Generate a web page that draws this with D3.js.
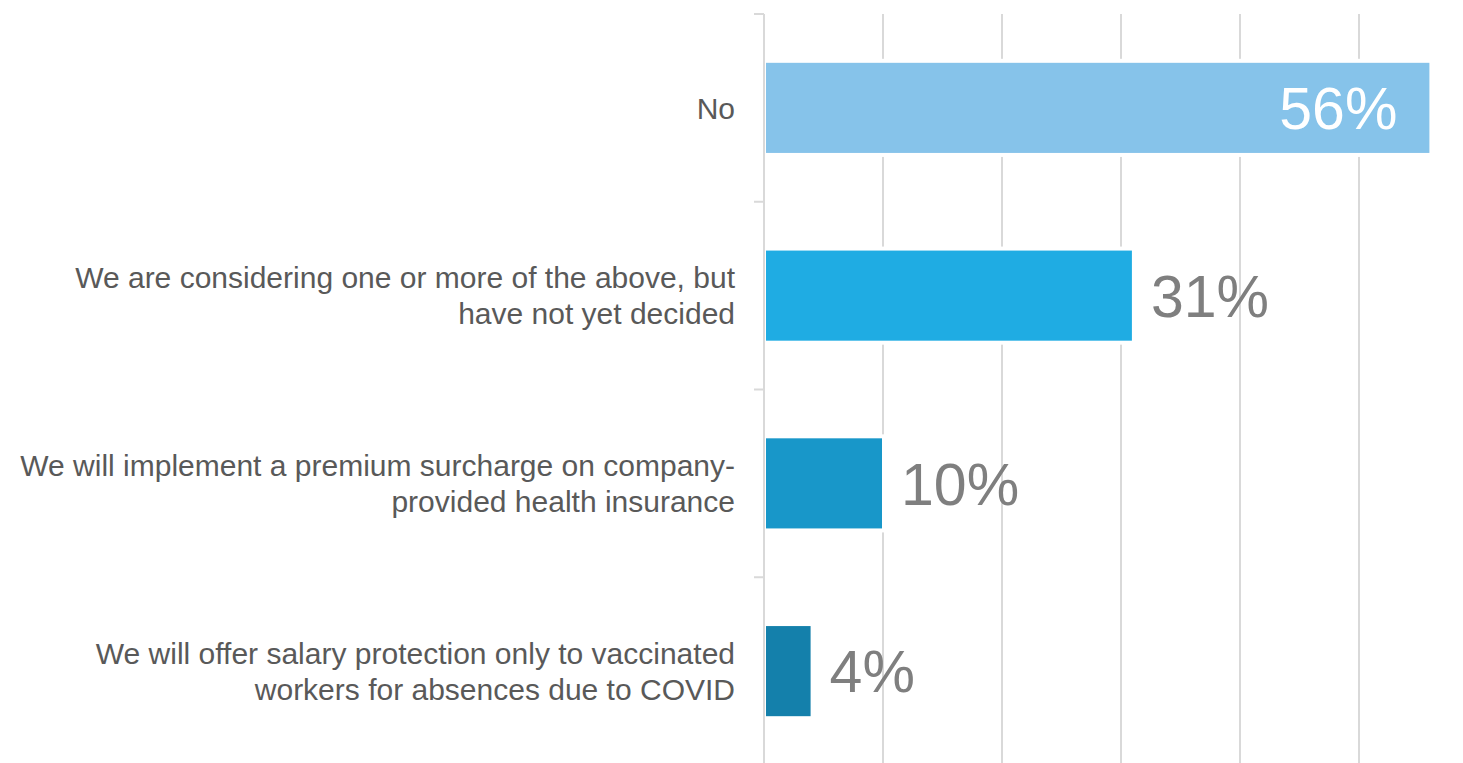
<!DOCTYPE html>
<html>
<head>
<meta charset="utf-8">
<script src="https://cdn.jsdelivr.net/npm/d3@7"></script>
<style>
  body { margin: 0; background: #fff; }
  svg { display: block; font-family: "Liberation Sans", Arial, sans-serif; }
</style>
</head>
<body>
<svg id="chart"></svg>
<script>
// Data
const categories = [
  ["No"],
  ["We are considering one or more of the above, but", "have not yet decided"],
  ["We will implement a premium surcharge on company-", "provided health insurance"],
  ["We will offer salary protection only to vaccinated", "workers for absences due to COVID"]
]
const values = [56, 31, 10, 4]
const barColors = ["#86c3ea", "#1face3", "#1897c9", "#1480ab"]
const gridTicks = [10, 20, 30, 40, 50, 60]

const width = 1463, height = 763
const margin = { top: 14, left: 764, right: 0, bottom: 0 }

const svg = d3.select("#chart").attr("width", width).attr("height", height)

const x = d3.scaleLinear().domain([0, 60]).range([margin.left, margin.left + 714])
const y = d3.scaleBand().domain(d3.range(categories.length))
  .range([margin.top, 765]).paddingInner(0.52).paddingOuter(0.26)

// gridlines
svg.append("g").selectAll("line")
  .data(gridTicks)
  .enter().append("line")
  .attr("x1", d => x(d)).attr("x2", d => x(d))
  .attr("y1", margin.top).attr("y2", height)
  .attr("stroke", "#d9d9d9").attr("stroke-width", 2)

// bars (white halo breaks the gridlines)
const bars = svg.append("g")
bars.selectAll("rect.halo")
  .data(values)
  .enter().append("rect")
  .attr("class", "halo")
  .attr("x", x(0)).attr("y", (d, i) => y(i) - 4)
  .attr("width", d => x(d) - x(0) + 3).attr("height", y.bandwidth() + 8)
  .attr("fill", "#fff")
bars.selectAll("rect.bar")
  .data(values)
  .enter().append("rect")
  .attr("class", "bar")
  .attr("x", x(0) + 2).attr("y", (d, i) => y(i))
  .attr("width", d => x(d) - x(0) - 3).attr("height", y.bandwidth())
  .attr("fill", (d, i) => barColors[i])

// category axis line + ticks
const bandStep = y.step()
const tickYs = d3.range(categories.length + 1).map(i => margin.top + i * bandStep)
svg.append("line")
  .attr("x1", x(0)).attr("x2", x(0))
  .attr("y1", margin.top).attr("y2", height)
  .attr("stroke", "#d9d9d9").attr("stroke-width", 2)
svg.append("g").selectAll("line")
  .data(tickYs)
  .enter().append("line")
  .attr("x1", x(0) - 10).attr("x2", x(0))
  .attr("y1", d => d).attr("y2", d => d)
  .attr("stroke", "#d9d9d9").attr("stroke-width", 2)

// category labels
const labelSize = 30, lineGap = 36
const labels = svg.append("g")
  .selectAll("text")
  .data(categories)
  .enter().append("text")
  .attr("text-anchor", "end")
  .attr("fill", "#595959")
  .attr("font-size", labelSize)
labels.each(function(lines, i) {
  const cy = y(i) + y.bandwidth() / 2
  const top = cy - (lines.length - 1) * lineGap / 2
  d3.select(this).selectAll("tspan")
    .data(lines)
    .enter().append("tspan")
    .attr("x", 735)
    .attr("y", (d, j) => top + j * lineGap + labelSize * 0.36)
    .text(d => d)
})

// value labels
const valueSize = 59
svg.append("g").selectAll("text")
  .data(values)
  .enter().append("text")
  .attr("font-size", valueSize)
  .attr("x", (d, i) => i === 0 ? x(d) - 33 : x(d) + 18)
  .attr("y", (d, i) => y(i) + y.bandwidth() / 2 + valueSize * 0.36)
  .attr("text-anchor", (d, i) => i === 0 ? "end" : "start")
  .attr("fill", (d, i) => i === 0 ? "#ffffff" : "#7f7f7f")
  .text(d => d + "%")
</script>
</body>
</html>
